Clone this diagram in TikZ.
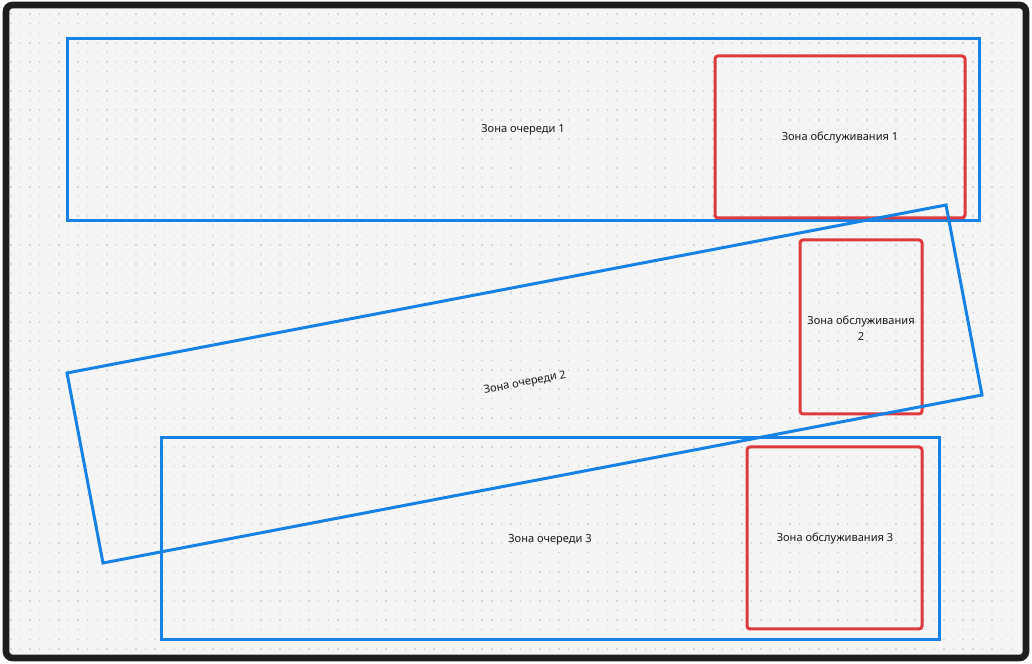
\documentclass[tikz,border=0pt]{standalone}
\usepackage{fontspec}
\setmainfont{Noto Sans}
\definecolor{zblue}{RGB}{22,130,230}
\definecolor{zred}{RGB}{222,58,62}
\definecolor{zbg}{RGB}{245,245,245}
\definecolor{zdot}{RGB}{214,214,214}
\definecolor{zframe}{RGB}{30,30,30}
\definecolor{ztext}{RGB}{25,25,25}
\tikzset{
  qzone/.style={draw=zblue,line width=2.25pt},
  szone/.style={draw=zred,line width=2.25pt,rounded corners=2.2pt},
  lbl/.style={text=ztext,font=\fontsize{8.3}{12}\selectfont,inner sep=0pt,align=center}
}
\begin{document}
\begin{tikzpicture}[x=0.75pt,y=0.75pt]
\useasboundingbox (0,0) rectangle (1032,664);
\fill[white] (0,0) rectangle (1032,664);
\fill[zbg,rounded corners=5pt] (6,6) rectangle (1026,659);
\foreach \i in {0,...,104}{
  \foreach \j in {0,...,66}{
    \fill[zdot] ({10.1+9.62*\i},{649.3-9.62*\j}) rectangle +(1.4,1.4);
  }
}
\draw[zframe,line width=5pt,rounded corners=5pt] (6,6) rectangle (1026,659);
% zones
\draw[qzone] (67,443) rectangle (979,625);
\draw[szone] (715,446) rectangle (965,608);
\draw[szone] (800,250) rectangle (922,424);
\draw[szone] (747,35) rectangle (922,217);
\draw[qzone] (161,24) rectangle (939,226);
\draw[qzone] (67,291) -- (946,459) -- (982,269) -- (103,101) -- cycle;
% labels
\node[lbl] (q1) at (523,534) {Зона очереди 1};
\node[lbl] (s1) at (840,526) {Зона обслуживания 1};
\node[lbl] (s2) at (861,336) {Зона обслуживания\\2};
\node[lbl,rotate=10.8] (q2) at (525,281) {Зона очереди 2};
\node[lbl] (q3) at (550,124) {Зона очереди 3};
\node[lbl] (s3) at (835,125) {Зона обслуживания 3};
\end{tikzpicture}
\end{document}
